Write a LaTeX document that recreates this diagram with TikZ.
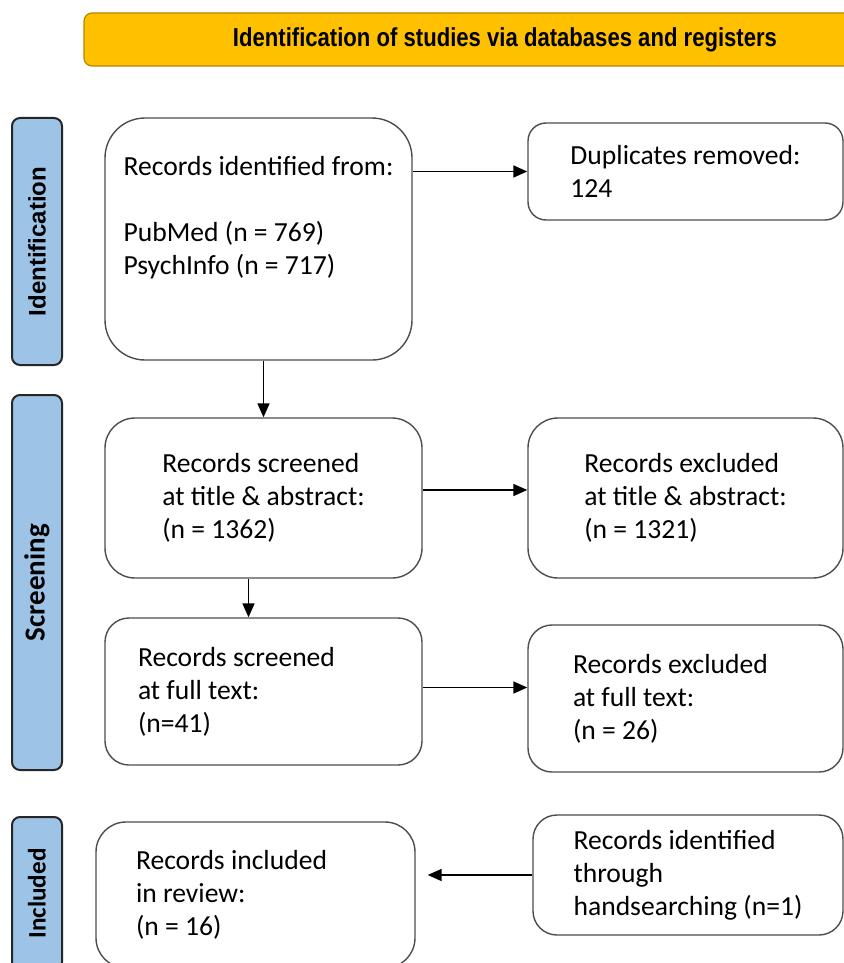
\documentclass[tikz,border=0pt]{standalone}
\usepackage{fontspec}
\setmainfont{Carlito}
\newfontfamily\headfont[FakeStretch=0.85]{Liberation Sans}
\newfontfamily\arialfont{Liberation Sans}
\usetikzlibrary{arrows.meta,calc}

\definecolor{headfill}{HTML}{FFC000}
\definecolor{headdraw}{HTML}{B08800}
\definecolor{barfill}{HTML}{9DC3E6}
\definecolor{boxdraw}{HTML}{4D4D4D}

\tikzset{
  box/.style={draw=boxdraw, line width=0.7pt, rounded corners=12pt, align=flush left,
    font=\fontsize{13.8}{16.5}\selectfont},
  bar/.style={draw=black!85, fill=barfill, line width=1pt, rounded corners=4pt, rotate=90},
  arr/.style={-{Triangle[length=7pt,width=6pt]}, line width=0.85pt, black}
}

\begin{document}
\begin{tikzpicture}[x=0.5pt,y=-0.5pt]
\useasboundingbox (0,0) rectangle (844,963);
\clip (0,0) rectangle (844,963);
\fill[white] (0,0) rectangle (844,963);

\node[draw=headdraw, fill=headfill, line width=0.6pt, rounded corners=4pt,
  minimum width=421pt, minimum height=26.5pt,
  font=\headfont\bfseries\fontsize{13}{15}\selectfont] (head) at (505,39.5)
  {Identification of studies via databases and registers};

% side bars
\node[bar, minimum width=123.5pt, minimum height=25pt,
  font=\arialfont\bfseries\fontsize{12}{14}\selectfont] (barI) at (37,241.5) {Identification};
\node[bar, minimum width=187.5pt, minimum height=25pt,
  font=\bfseries\fontsize{14.5}{16}\selectfont] (barS) at (37,582.5) {Screening};
\node[bar, minimum width=76.5pt, minimum height=25pt,
  font=\bfseries\fontsize{12.6}{14}\selectfont] (barN) at (37,893.5) {Included};

% boxes
\node[box, rounded corners=20pt, minimum width=153.5pt, minimum height=121pt] (ident) at (258.5,239)
  {Records identified from:\\ \\ PubMed (n = 769)\\ PsychInfo (n = 717)\\[7pt]\mbox{}};
\node[box, rounded corners=9pt, minimum width=157.5pt, minimum height=48.5pt] (dup) at (685.5,171.5)
  {Duplicates removed:\\ 124};
\node[box, rounded corners=15pt, minimum width=158.5pt, minimum height=80pt] (scr1) at (263.5,498)
  {Records screened\\ at title \& abstract:\\ (n = 1362)};
\node[box, rounded corners=15pt, minimum width=157.5pt, minimum height=80pt] (exc1) at (685.5,498)
  {Records excluded\\ at title \& abstract:\\ (n = 1321)};
\node[box, text width=125.5pt, inner xsep=16.5pt, minimum height=73.5pt] (scr2) at (263.5,691.5)
  {Records screened\\ at full text:\\ (n=41)};
\node[box, text width=112.5pt, inner xsep=22.5pt, minimum height=73.5pt] (exc2) at (685.5,698.5)
  {Records excluded\\ at full text:\\ (n = 26)};
\node[box, rounded corners=15pt, text width=119.5pt, inner xsep=20pt, minimum height=73pt] (incl) at (255.5,895)
  {Records included\\ in review:\\ (n = 16)};
\node[box, minimum width=155pt, minimum height=60pt] (hand) at (688,875)
  {Records identified\\ through\\ handsearching (n=1)};

% arrows
\coordinate (s1) at ([xshift=-7.5pt]scr1.south);
\draw[arr] (dup.west -| ident.east) -- (dup.west);
\draw[arr] (ident.south -| scr1.north) -- (scr1.north);
\draw[arr] ([yshift=4pt]scr1.east) -- ([yshift=4pt]exc1.west);
\draw[arr] (s1) -- (s1 |- scr2.north);
\draw[arr] ([yshift=2pt]scr2.east) -- ([yshift=2pt]scr2.east -| exc2.west);
\draw[arr] (hand.west) -- ($(hand.west -| incl.east)+(6pt,0)$);

\end{tikzpicture}
\end{document}
